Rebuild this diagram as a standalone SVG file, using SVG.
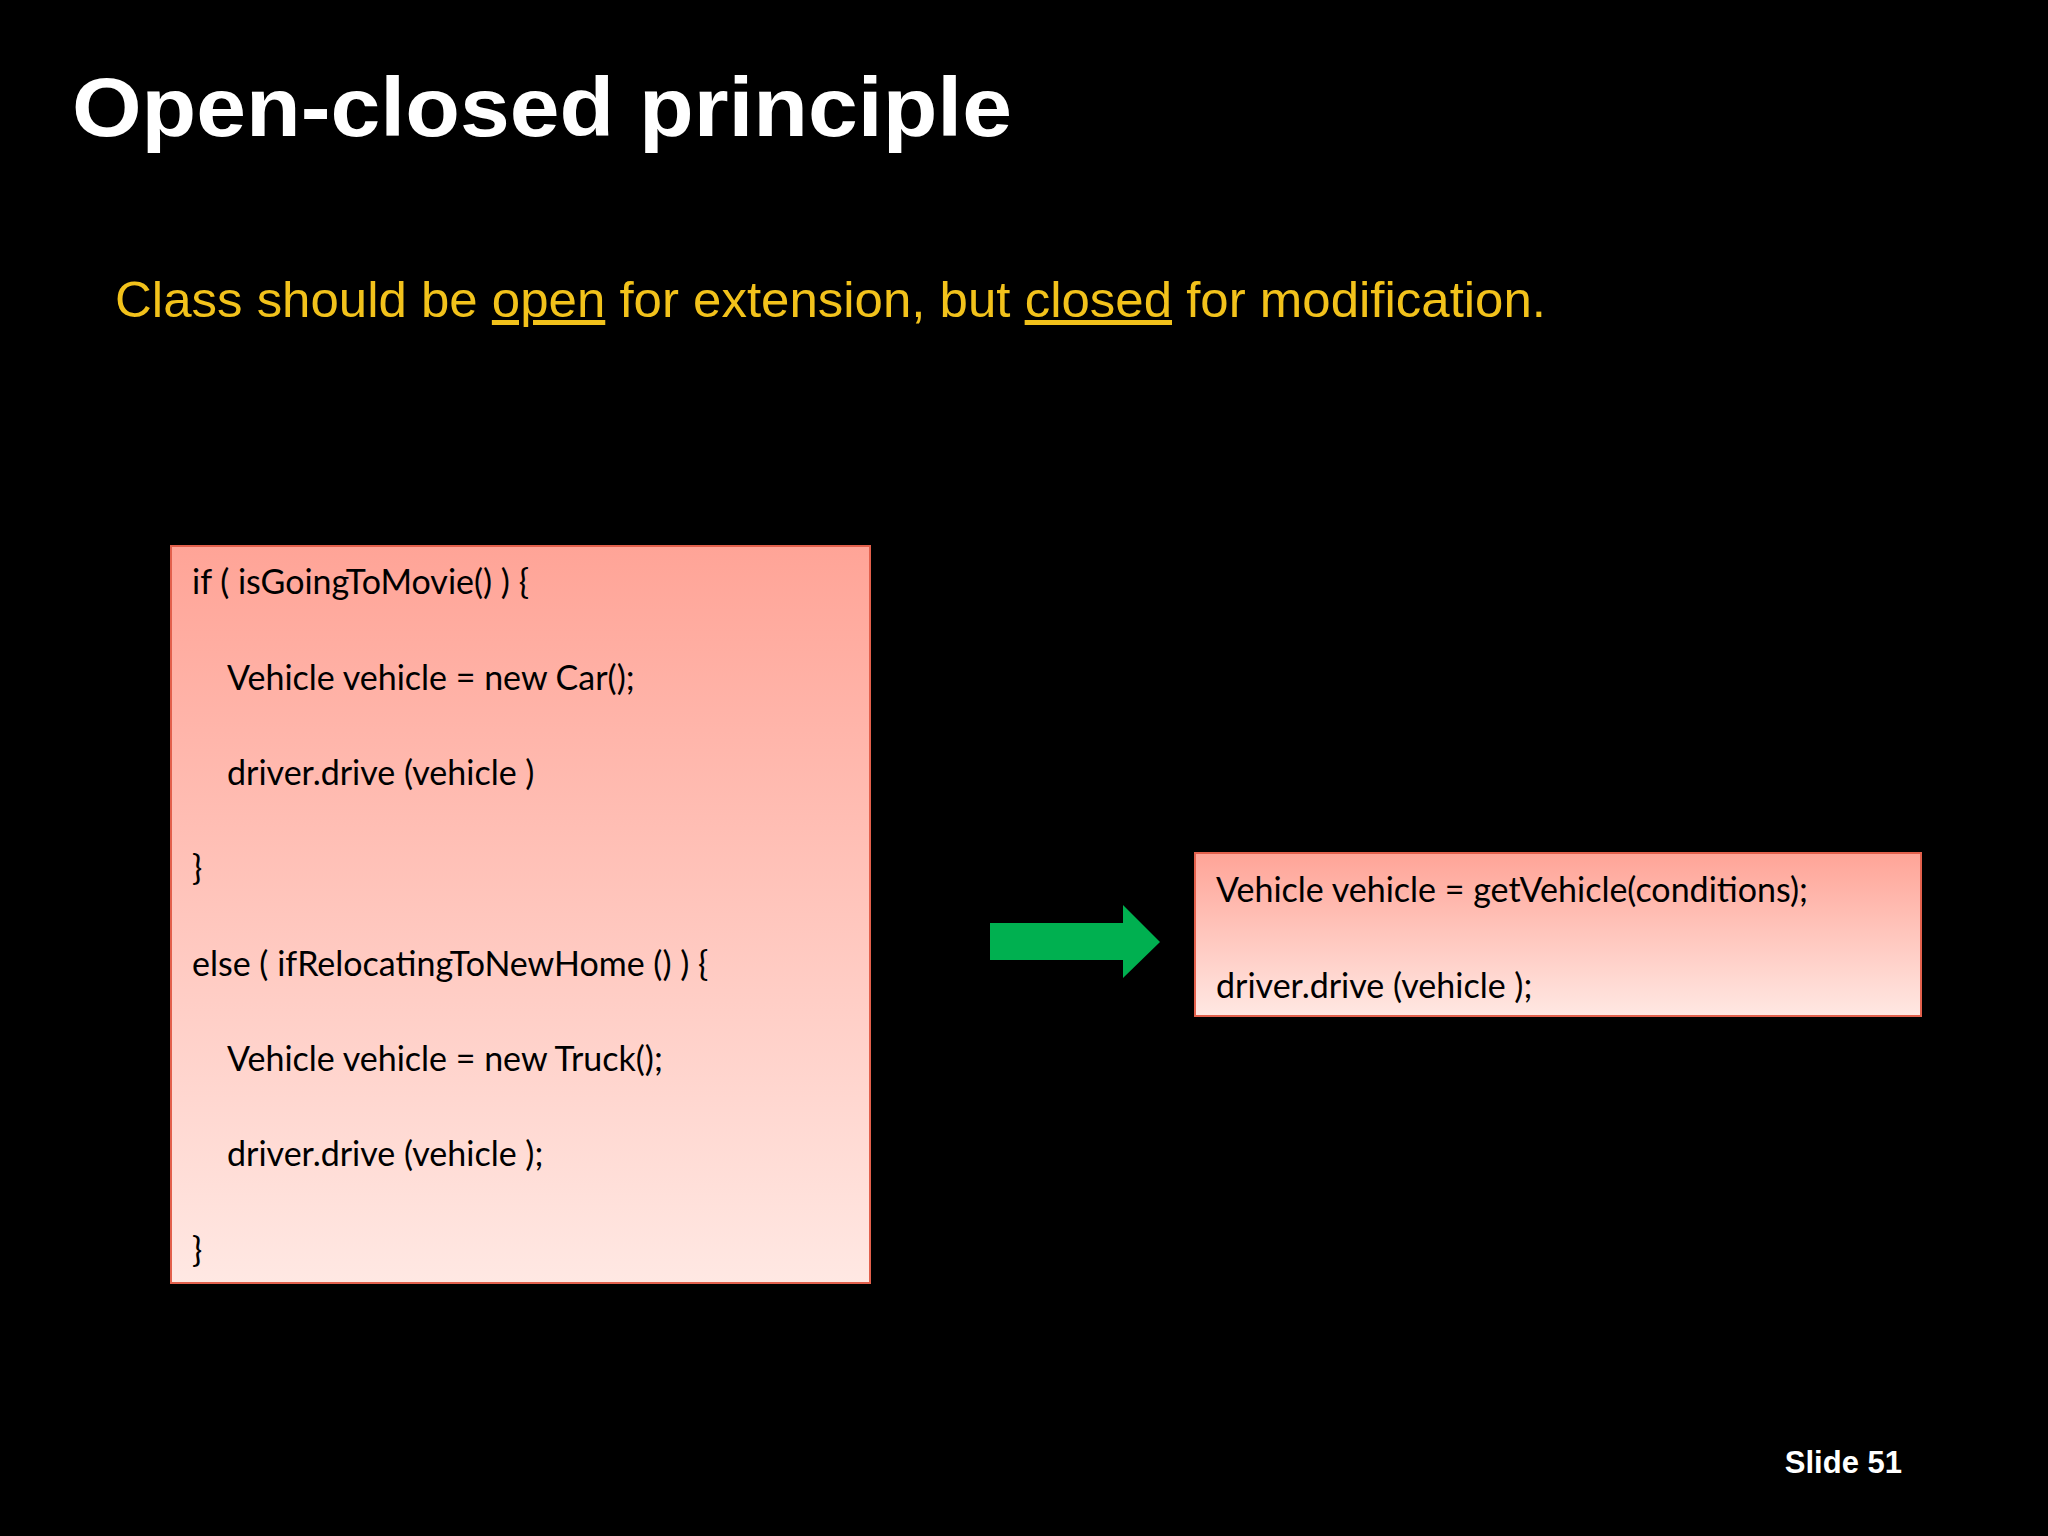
<svg xmlns="http://www.w3.org/2000/svg" width="2048" height="1536" viewBox="0 0 2048 1536">
<defs>
<linearGradient id="g" x1="0" y1="0" x2="0" y2="1"><stop offset="0" stop-color="#FFA497"/><stop offset="1" stop-color="#FFE8E3"/></linearGradient>
<style>
.code{font-family:Lato,"Open Sans",sans-serif;font-size:34px;fill:#000}
.box{fill:url(#g);stroke:#E2604C;stroke-width:2}
</style>
</defs>
<rect width="2048" height="1536" fill="#000"/>
<text x="72" y="136" font-family="Liberation Sans, sans-serif" font-weight="bold" font-size="84" fill="#fff" textLength="940" lengthAdjust="spacingAndGlyphs">Open-closed principle</text>
<text x="115" y="317" font-family="Liberation Sans, sans-serif" font-size="50" fill="#F2C21B" textLength="1431" lengthAdjust="spacingAndGlyphs">Class should be <tspan text-decoration="underline">open</tspan> for extension, but <tspan text-decoration="underline">closed</tspan> for modification.</text>
<g id="before">
<rect class="box" x="171" y="546" width="699" height="737"/>
<text class="code" x="192" y="594">if ( isGoingToMovie() ) {</text>
<text class="code" x="227" y="690">Vehicle vehicle = new Car();</text>
<text class="code" x="227" y="785">driver.drive (vehicle )</text>
<text class="code" x="192" y="880">}</text>
<text class="code" x="192" y="976">else ( ifRelocatingToNewHome () ) {</text>
<text class="code" x="227" y="1071">Vehicle vehicle = new Truck();</text>
<text class="code" x="227" y="1166">driver.drive (vehicle );</text>
<text class="code" x="192" y="1262">}</text>
</g>
<g id="connectors">
<polygon points="990,923 1123,923 1123,905 1160,942 1123,978 1123,960 990,960" fill="#00B050"/>
</g>
<g id="after">
<rect class="box" x="1195" y="853" width="726" height="163"/>
<text class="code" x="1216" y="902">Vehicle vehicle = getVehicle(conditions);</text>
<text class="code" x="1216" y="998">driver.drive (vehicle );</text>
</g>
<text x="1902" y="1473" text-anchor="end" font-family="Liberation Sans, sans-serif" font-weight="bold" font-size="31" fill="#fff">Slide 51</text>
</svg>
